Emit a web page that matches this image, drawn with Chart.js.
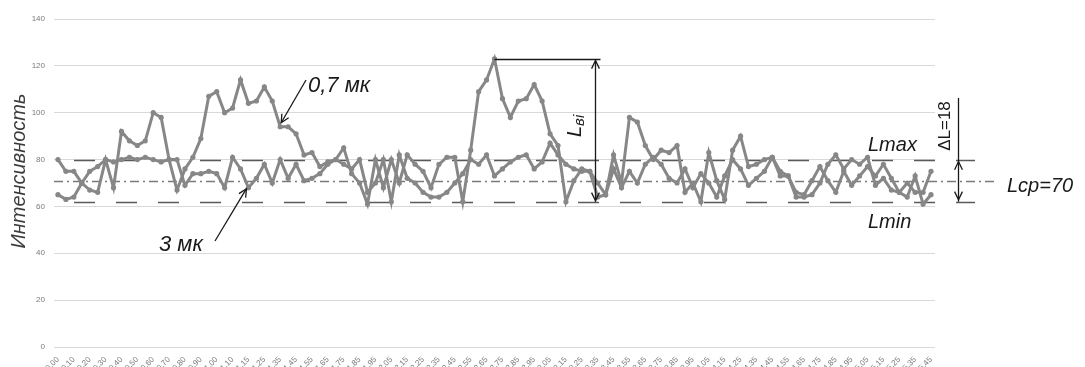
<!DOCTYPE html>
<html>
<head>
<meta charset="utf-8">
<script src="https://cdn.jsdelivr.net/npm/chart.js@4.4.0/dist/chart.umd.min.js"></script>
<style>
  html, body { margin: 0; padding: 0; background: #fff; }
</style>
</head>
<body>
<canvas id="grafico" width="1085" height="367"></canvas>
<script>
// подписи оси X (каждая вторая точка)
const tickLabels = [
  '0,00', '0,10', '0,20', '0,30', '0,40', '0,50', '0,60', '0,70', '0,80', '0,90', '1,00', '1,10',
  '1,15', '1,25', '1,35', '1,45', '1,55', '1,65', '1,75', '1,85', '1,95',
  '2,05', '2,15', '2,25', '2,35', '2,45', '2,55', '2,65', '2,75', '2,85', '2,95',
  '3,05', '3,15', '3,25', '3,35', '3,45', '3,55', '3,65', '3,75', '3,85', '3,95',
  '4,05', '4,15', '4,25', '4,35', '4,45', '4,55', '4,65', '4,75', '4,85', '4,95',
  '5,05', '5,15', '5,25', '5,35', '5,45'
];

// 0,7 мк
const serie07 = [
  80, 75, 75, 70, 67, 66, 80, 68, 92, 88,
  86, 88, 100, 98, 80, 67, 76, 81, 89, 107,
  109, 100, 102, 114, 104, 105, 111, 105, 94, 94,
  91, 82, 83, 77, 79, 80, 85, 74, 70, 61,
  80, 68, 80, 70, 82, 78, 75, 68, 78, 81,
  81, 62, 84, 109, 114, 123, 106, 98, 105, 106,
  112, 105, 91, 86, 62, 71, 76, 75, 64, 65,
  82, 70, 98, 96, 86, 80, 84, 83, 86, 66,
  70, 62, 83, 71, 63, 84, 90, 77, 78, 80,
  81, 73, 73, 64, 64, 65, 70, 78, 82, 76,
  80, 78, 81, 69, 72, 67, 66, 64, 73, 61,
  65
];

// 3 мк
const serie3 = [
  65, 63, 64, 70, 75, 77, 80, 79, 80, 81,
  80, 81, 80, 79, 80, 80, 69, 74, 74, 75,
  74, 68, 81, 76, 68, 72, 78, 70, 80, 72,
  78, 71, 72, 74, 78, 80, 78, 76, 80, 66,
  70, 80, 62, 82, 72, 70, 66, 64, 64, 66,
  70, 74, 80, 78, 82, 73, 76, 79, 81, 82,
  76, 79, 87, 82, 78, 76, 75, 75, 70, 65,
  76, 68, 75, 70, 78, 81, 78, 72, 70, 76,
  68, 74, 70, 64, 73, 80, 76, 69, 72, 75,
  81, 75, 73, 66, 65, 71, 77, 71, 66, 75,
  69, 73, 77, 73, 78, 72, 66, 70, 66, 66,
  75
];

// уровни
const nivelMax = 80;
const nivelMin = 62;
const nivelMedio = 71;

const categorias = serie07.map((_, i) => (i % 2 === 0 ? tickLabels[i / 2] : ''));

const FONTE = "'Liberation Sans', Arial, sans-serif";
const CINZA = '#878787';

function linha(ctx, x1, y1, x2, y2) {
  ctx.beginPath();
  ctx.moveTo(x1, y1);
  ctx.lineTo(x2, y2);
  ctx.stroke();
}

// наконечник стрелки (открытый)
function ponta(ctx, xt, yt, ang) {
  const len = 9, abre = 0.45;
  ctx.beginPath();
  ctx.moveTo(xt - len * Math.cos(ang - abre), yt - len * Math.sin(ang - abre));
  ctx.lineTo(xt, yt);
  ctx.lineTo(xt - len * Math.cos(ang + abre), yt - len * Math.sin(ang + abre));
  ctx.stroke();
}

function seta(ctx, x1, y1, x2, y2) {
  linha(ctx, x1, y1, x2, y2);
  ponta(ctx, x2, y2, Math.atan2(y2 - y1, x2 - x1));
}

const anotacoes = {
  id: 'anotacoes',
  beforeDatasetsDraw(chart) {
    const { ctx, chartArea, scales: { y } } = chart;
    ctx.save();
    ctx.lineWidth = 1.5;
    ctx.strokeStyle = '#5a5a5a';
    ctx.setLineDash([21, 21]);
    [nivelMax, nivelMin].forEach(v => {
      const py = Math.round(y.getPixelForValue(v)) + 0.5;
      linha(ctx, chartArea.left + 20, py, 975, py);
    });
    ctx.strokeStyle = '#7a7a7a';
    ctx.setLineDash([9, 4, 2, 4]);
    const pm = Math.round(y.getPixelForValue(nivelMedio)) + 0.5;
    linha(ctx, chartArea.left, pm, 998, pm);
    ctx.restore();
  },
  afterDatasetsDraw(chart) {
    const { ctx, scales: { x, y } } = chart;
    ctx.save();
    ctx.strokeStyle = '#1a1a1a';
    ctx.fillStyle = '#1a1a1a';
    ctx.lineWidth = 1.3;
    ctx.setLineDash([]);

    // подпись оси Y
    ctx.save();
    ctx.translate(19, 171);
    ctx.rotate(-Math.PI / 2);
    ctx.font = 'italic 20px ' + FONTE;
    ctx.fillStyle = '#3c3c3c';
    ctx.textAlign = 'center';
    ctx.textBaseline = 'middle';
    ctx.fillText('Интенсивность', 0, 0);
    ctx.restore();

    // L в i — от пика до Lmin
    const iPico = serie07.indexOf(Math.max(...serie07));
    const xPico = x.getPixelForValue(iPico);
    const yPico = Math.round(y.getPixelForValue(serie07[iPico])) + 0.5;
    const yMin = y.getPixelForValue(nivelMin);
    const yMax = y.getPixelForValue(nivelMax);
    const xSeta = xPico + 101;
    linha(ctx, xPico, yPico, xPico + 106, yPico);
    linha(ctx, xSeta, yPico, xSeta, yMin);
    ponta(ctx, xSeta, yPico + 1, -Math.PI / 2);
    ponta(ctx, xSeta, yMin - 1, Math.PI / 2);

    ctx.save();
    ctx.translate(xSeta - 15, 137);
    ctx.rotate(-Math.PI / 2);
    ctx.textBaseline = 'alphabetic';
    ctx.font = 'italic 20px ' + FONTE;
    ctx.fillText('L', 0, 0);
    const wL = ctx.measureText('L').width;
    ctx.font = 'italic 15px ' + FONTE;
    ctx.fillText('вi', wL, 3);
    ctx.restore();

    // ΔL
    const xDelta = 958.5;
    linha(ctx, xDelta, 98, xDelta, yMin);
    ponta(ctx, xDelta, yMax + 2, -Math.PI / 2);
    ponta(ctx, xDelta, yMin - 2, Math.PI / 2);
    ctx.save();
    ctx.translate(950, 126);
    ctx.rotate(-Math.PI / 2);
    ctx.font = '17px ' + FONTE;
    ctx.textAlign = 'center';
    ctx.textBaseline = 'alphabetic';
    ctx.fillText('ΔL=18', 0, 0);
    ctx.restore();

    // подписи уровней
    ctx.font = 'italic 20px ' + FONTE;
    ctx.textAlign = 'left';
    ctx.textBaseline = 'alphabetic';
    ctx.fillText('Lmax', 868, 151);
    ctx.fillText('Lmin', 868, 228);
    ctx.fillText('Lcp=70', 1007, 192);

    // 0,7 мк
    const i07 = 28;
    const t07x = x.getPixelForValue(i07) + 1;
    const t07y = y.getPixelForValue(serie07[i07]) - 4;
    seta(ctx, 306, 80, t07x, t07y);
    ctx.font = 'italic 22px ' + FONTE;
    ctx.fillText('0,7 мк', 308, 92);

    // 3 мк
    const i3 = 24;
    const t3x = x.getPixelForValue(i3) - 2;
    const t3y = y.getPixelForValue(serie3[i3]) + 1;
    seta(ctx, 215, 241, t3x, t3y);
    ctx.fillText('3 мк', 159, 251);

    ctx.restore();
  }
};

const ctx = document.getElementById('grafico').getContext('2d');

new Chart(ctx, {
  type: 'line',
  data: {
    labels: categorias,
    datasets: [
      {
        label: '0,7 мк',
        data: serie07,
        borderColor: CINZA,
        backgroundColor: CINZA,
        borderWidth: 3,
        pointRadius: 2.6,
        pointBorderWidth: 0,
        pointBackgroundColor: CINZA,
        tension: 0
      },
      {
        label: '3 мк',
        data: serie3,
        borderColor: CINZA,
        backgroundColor: CINZA,
        borderWidth: 3,
        pointRadius: 2.6,
        pointBorderWidth: 0,
        pointBackgroundColor: CINZA,
        tension: 0
      }
    ]
  },
  options: {
    responsive: false,
    animation: false,
    events: [],
    layout: { padding: { left: 0, right: 150, top: 19, bottom: 0 } },
    plugins: {
      legend: { display: false },
      tooltip: { enabled: false }
    },
    scales: {
      x: {
        offset: true,
        grid: { display: false },
        border: { display: false },
        ticks: {
          autoSkip: false,
          minRotation: 45,
          maxRotation: 45,
          padding: 0,
          color: '#7a7a7a',
          font: { family: FONTE, size: 8 }
        },
        afterFit: s => { s.height = 20; }
      },
      y: {
        min: 0,
        max: 140,
        grid: { color: '#d9d9d9', lineWidth: 1, drawTicks: false },
        border: { display: false },
        ticks: {
          stepSize: 20,
          padding: 9,
          color: '#7a7a7a',
          font: { family: FONTE, size: 8 }
        },
        afterFit: s => { s.width = 54; }
      }
    }
  },
  plugins: [anotacoes]
});
</script>
</body>
</html>
